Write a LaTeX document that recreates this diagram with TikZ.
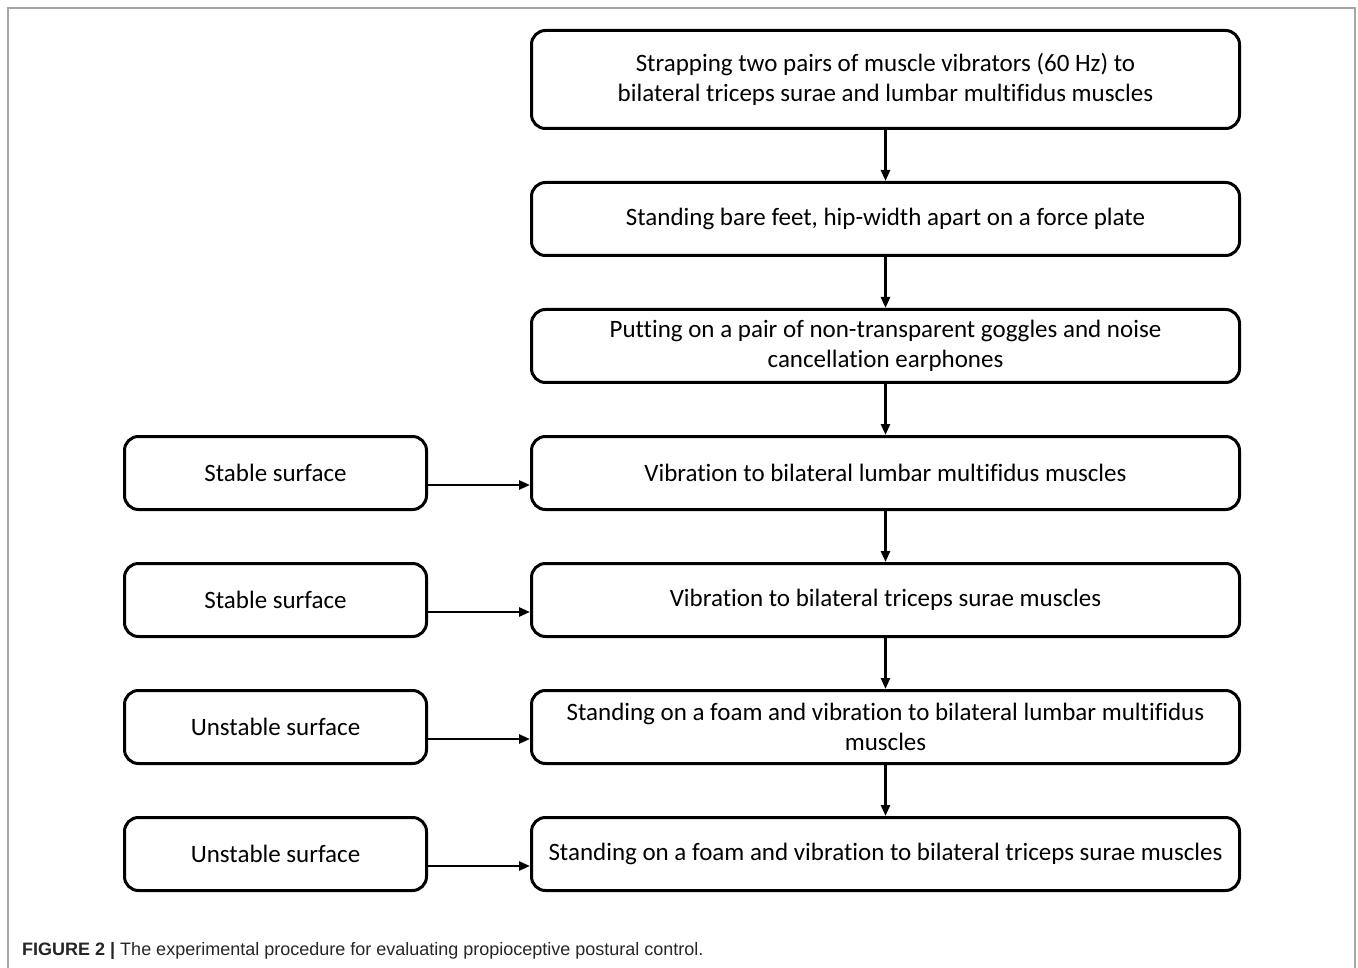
\documentclass[tikz,border=0pt]{standalone}
\usepackage{fontspec}
\setmainfont{Carlito}[Ligatures=NoCommon]
\newfontfamily\capfont{Liberation Sans}
\usetikzlibrary{arrows.meta}
\begin{document}
\begin{tikzpicture}[x=1pt,y=1pt,
  box/.style={draw, line width=3pt, rounded corners=14pt, align=center, inner sep=0pt,
    font=\fontsize{25}{30}\selectfont},
  mainbox/.style={box, minimum width=708pt, minimum height=73pt},
  sidebox/.style={box, minimum width=302pt, minimum height=73pt},
  arr/.style={line width=2.6pt, -{Triangle[length=11pt,width=9pt]}}
]
\useasboundingbox (0,0) rectangle (1358,-968);
\draw[gray!70, line width=1.5pt] (8,-968) -- (8,-8) -- (1355,-8) -- (1355,-968);

\node[mainbox, minimum height=98pt] (m1) at (885.5,-79.5) {Strapping two pairs of muscle vibrators (60 Hz) to\\bilateral triceps surae and lumbar multifidus muscles};
\node[mainbox] (m2) at (885.5,-219) {Standing bare feet, hip-width apart on a force plate};
\node[mainbox] (m3) at (885.5,-346) {Putting on a pair of non-transparent goggles and noise\\cancellation earphones};
\node[mainbox] (m4) at (885.5,-473) {Vibration to bilateral lumbar multifidus muscles};
\node[mainbox] (m5) at (885.5,-600) {Vibration to bilateral triceps surae muscles};
\node[mainbox] (m6) at (885.5,-727) {Standing on a foam and vibration to bilateral lumbar multifidus\\muscles};
\node[mainbox] (m7) at (885.5,-854) {Standing on a foam and vibration to bilateral triceps surae muscles};

\node[sidebox] (s4) at (275.5,-473) {Stable surface};
\node[sidebox] (s5) at (275.5,-600) {Stable surface};
\node[sidebox] (s6) at (275.5,-727) {Unstable surface};
\node[sidebox] (s7) at (275.5,-854) {Unstable surface};

\foreach \a/\b in {m1/m2,m2/m3,m3/m4,m4/m5,m5/m6,m6/m7}
  \draw[arr] (\a.south) -- (\b.north);
\foreach \a/\b in {s4/m4,s5/m5,s6/m6,s7/m7}
  \draw[arr] ([yshift=-12pt]\a.east) -- ([yshift=-12pt]\b.west);

\node[anchor=base west, inner sep=0pt, font=\capfont\fontsize{18}{20}\selectfont, text=black!85] (cap) at (22,-955)
  {\textbf{FIGURE 2 |} The experimental procedure for evaluating propioceptive postural control.};
\end{tikzpicture}
\end{document}
